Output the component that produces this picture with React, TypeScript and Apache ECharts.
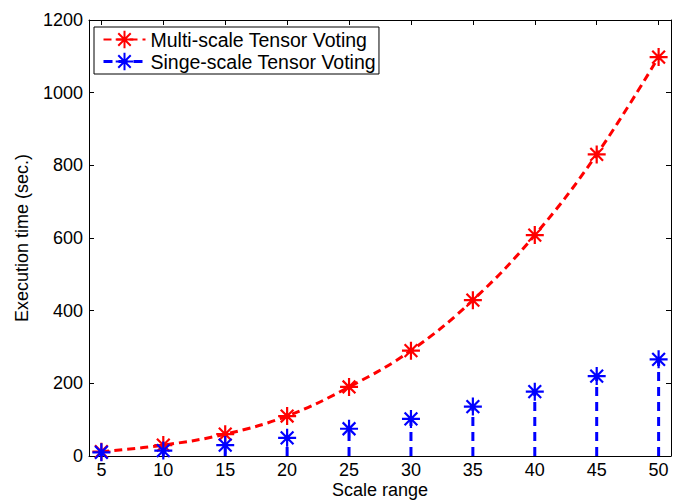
import React, { useEffect, useRef } from "react";
import * as echarts from "echarts";

const scales = [5, 10, 15, 20, 25, 30, 35, 40, 45, 50];
const multiScale = [12, 30, 60, 110, 190, 290, 429, 608, 830, 1098];
const singleScale = [10, 15, 30, 50, 75, 102, 136, 177, 220, 266];
const xTickValues = [5, 10, 15, 20, 25, 30, 35, 40, 45, 50];

const MULTI = "Multi-scale Tensor Voting";
const SINGLE = "Singe-scale Tensor Voting";
const FONT = "'Liberation Sans', Arial, Helvetica, sans-serif";
const STAR = "path://M0 -10 L0 10 M-10 0 L10 0 M-7.07 -7.07 L7.07 7.07 M-7.07 7.07 L7.07 -7.07";
const RED = "#ff0000";
const BLUE = "#0000ff";

export default function App() {
  const ref = useRef<HTMLDivElement>(null);
  useEffect(() => {
    if (!ref.current) return;
    const chart = echarts.init(ref.current, null, { renderer: "svg" });
    const axisLine = { show: true, onZero: false, lineStyle: { color: "#000", width: 1 } };
    const redData = scales.map((s, i) => [s, multiScale[i]]);
    const blueData = scales.map((s, i) => [s, singleScale[i]]);
    chart.setOption({
      animation: false,
      textStyle: { fontFamily: FONT },
      grid: { left: 89, right: 11, top: 20, bottom: 46, containLabel: false, outerBoundsMode: "none" },
      legend: {
        orient: "vertical",
        left: 94,
        top: 27,
        padding: [2, 3, 2, 8],
        itemGap: 1,
        itemWidth: 42,
        itemHeight: 22,
        borderColor: "#000",
        borderWidth: 1,
        borderRadius: 0,
        backgroundColor: "#fff",
        textStyle: { fontSize: 19.5, color: "#000", fontFamily: FONT, lineHeight: 21 },
        data: [
          { name: MULTI },
          {
            name: SINGLE,
            lineStyle: { color: BLUE, width: 3, type: [9, 6], opacity: 1 },
          },
        ],
      },
      xAxis: [
        {
          type: "value",
          min: 4,
          max: 51,
          position: "bottom",
          axisLine,
          axisTick: { show: true, inside: true, length: 5, customValues: xTickValues, lineStyle: { color: "#000" } },
          axisLabel: {
            customValues: xTickValues,
            fontSize: 18,
            lineHeight: 18,
            color: "#000",
            margin: 5,
            fontFamily: FONT,
          },
          splitLine: { show: false },
          name: "Scale range",
          nameLocation: "middle",
          nameGap: 25,
          nameMoveOverlap: false,
          nameTextStyle: { fontSize: 18, color: "#000", fontFamily: FONT, lineHeight: 18 },
        },
        {
          type: "value",
          min: 4,
          max: 51,
          position: "top",
          axisLine,
          axisTick: { show: true, inside: true, length: 5, customValues: xTickValues, lineStyle: { color: "#000" } },
          axisLabel: { show: false },
          splitLine: { show: false },
        },
      ],
      yAxis: [
        {
          type: "value",
          min: 0,
          max: 1200,
          interval: 200,
          position: "left",
          axisLine,
          axisTick: { show: true, inside: true, length: 5, lineStyle: { color: "#000" } },
          axisLabel: {
            fontSize: 18,
            color: "#000",
            margin: 6,
            fontFamily: FONT,
            formatter: (v: number) => String(v),
          },
          splitLine: { show: false },
          name: "Execution time (sec.)",
          nameLocation: "middle",
          nameGap: 58,
          nameMoveOverlap: false,
          nameTextStyle: { fontSize: 18, color: "#000", fontFamily: FONT },
        },
        {
          type: "value",
          min: 0,
          max: 1200,
          interval: 200,
          position: "right",
          axisLine,
          axisTick: { show: true, inside: true, length: 5, lineStyle: { color: "#000" } },
          axisLabel: { show: false },
          splitLine: { show: false },
        },
      ],
      series: [
        {
          name: MULTI,
          type: "line",
          data: redData,
          smooth: 0.4,
          symbol: STAR,
          symbolSize: 18,
          symbolKeepAspect: true,
          lineStyle: { color: RED, width: 3, type: [8, 5] },
          itemStyle: { color: RED, borderColor: RED, borderWidth: 2.2 },
          z: 2,
        },
        {
          name: "stems",
          type: "custom",
          data: blueData,
          renderItem: (params: any, api: any) => {
            const x = api.value(0);
            const y = api.value(1);
            const top = api.coord([x, y]);
            const bot = api.coord([x, 0]);
            return {
              type: "line",
              shape: { x1: bot[0], y1: bot[1], x2: top[0], y2: top[1] },
              style: { stroke: BLUE, lineWidth: 3, lineDash: [9, 6], fill: null },
            };
          },
          z: 3,
        },
        {
          name: SINGLE,
          type: "line",
          data: blueData,
          symbol: STAR,
          symbolSize: 18,
          symbolKeepAspect: true,
          lineStyle: { color: BLUE, width: 0, opacity: 0 },
          itemStyle: { color: BLUE, borderColor: BLUE, borderWidth: 2.2 },
          z: 4,
        },
      ],
    });
    return () => chart.dispose();
  }, []);
  return (
    <div
      ref={ref}
      style={{ position: "fixed", left: 0, top: 0, width: 682, height: 502, background: "#fff" }}
    />
  );
}
